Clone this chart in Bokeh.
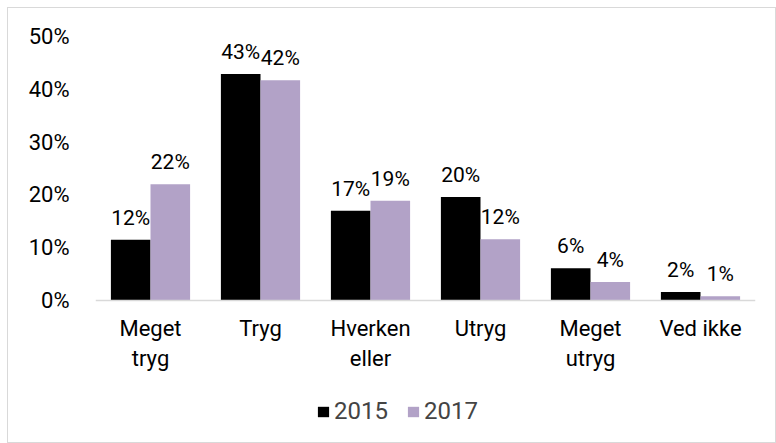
from bokeh.plotting import figure
from bokeh.models import ColumnDataSource, FactorRange, Legend, LegendItem, NumeralTickFormatter
from bokeh.transform import dodge
from bokeh.core.properties import value
from bokeh.embed import file_html
from bokeh.resources import INLINE

categories = ["Meget\ntryg", "Tryg", "Hverken\neller", "Utryg", "Meget\nutryg", "Ved ikke"]
years = ["2015", "2017"]
v2015 = [11.5, 42.9, 17.0, 19.6, 6.1, 1.6]
v2017 = [22.0, 41.7, 18.9, 11.6, 3.5, 0.8]
colors = ["#000000", "#B2A2C7"]

def pct(v):
    return f"{int(v + 0.5)}%"

src = ColumnDataSource(dict(
    cat=categories,
    y15=[v / 100 for v in v2015],
    y17=[v / 100 for v in v2017],
    l15=[pct(v) for v in v2015],
    l17=[pct(v) for v in v2017],
))

FONT = "Roboto"

p = figure(x_range=FactorRange(*categories), y_range=(-0.2576, 0.5),
           width=769, height=436, output_backend="svg", toolbar_location=None,
           min_border_left=87, min_border_right=22, min_border_top=28, min_border_bottom=8)
p.styles = {"margin-left": "7px", "margin-top": "7px",
            "border": "1px solid #d9d9d9", "box-sizing": "border-box"}

bw = 0.36
off = 0.18
r15 = p.vbar(x=dodge("cat", -off, range=p.x_range), top="y15", width=bw, source=src,
             fill_color=colors[0], line_color=None)
r17 = p.vbar(x=dodge("cat", off, range=p.x_range), top="y17", width=bw, source=src,
             fill_color=colors[1], line_color=None)

for col, lab, o in (("y15", "l15", -off), ("y17", "l17", off)):
    p.text(x=dodge("cat", o, range=p.x_range), y=col, text=lab, source=src,
           text_align="center", text_baseline="alphabetic", y_offset=-22,
           text_font=value(FONT), text_font_size="21px", text_color="#000000")

p.grid.visible = False
p.outline_line_color = None
p.background_fill_color = "white"
p.border_fill_color = "white"

p.yaxis.ticker = [0, 0.1, 0.2, 0.3, 0.4, 0.5]
p.yaxis.formatter = NumeralTickFormatter(format="0%")
p.yaxis.axis_line_color = None
p.yaxis.major_tick_line_color = None
p.yaxis.minor_tick_line_color = None
p.yaxis.major_tick_out = 0
p.yaxis.major_label_standoff = 26
p.yaxis.major_label_text_font = FONT
p.yaxis.major_label_text_font_size = "22px"
p.yaxis.major_label_text_color = "#000000"

p.xaxis.fixed_location = 0
p.xaxis.axis_line_color = "#d9d9d9"
p.xaxis.axis_line_width = 1.5
p.xaxis.major_tick_line_color = None
p.xaxis.minor_tick_line_color = None
p.xaxis.major_tick_out = 0
p.xaxis.major_label_standoff = 16
p.xaxis.major_label_text_font = FONT
p.xaxis.major_label_text_font_size = "22px"
p.xaxis.major_label_text_color = "#000000"

legend = Legend(items=[LegendItem(label=years[0], renderers=[r15]),
                       LegendItem(label=years[1], renderers=[r17])],
                orientation="horizontal", location=(221, 11),
                label_text_font=FONT, label_text_font_size="24px",
                glyph_width=14, glyph_height=13, label_standoff=4, spacing=18,
                padding=0, margin=0, border_line_color=None,
                background_fill_alpha=0)
p.add_layout(legend, "center")

open("out.html", "w").write(file_html(p, INLINE))
